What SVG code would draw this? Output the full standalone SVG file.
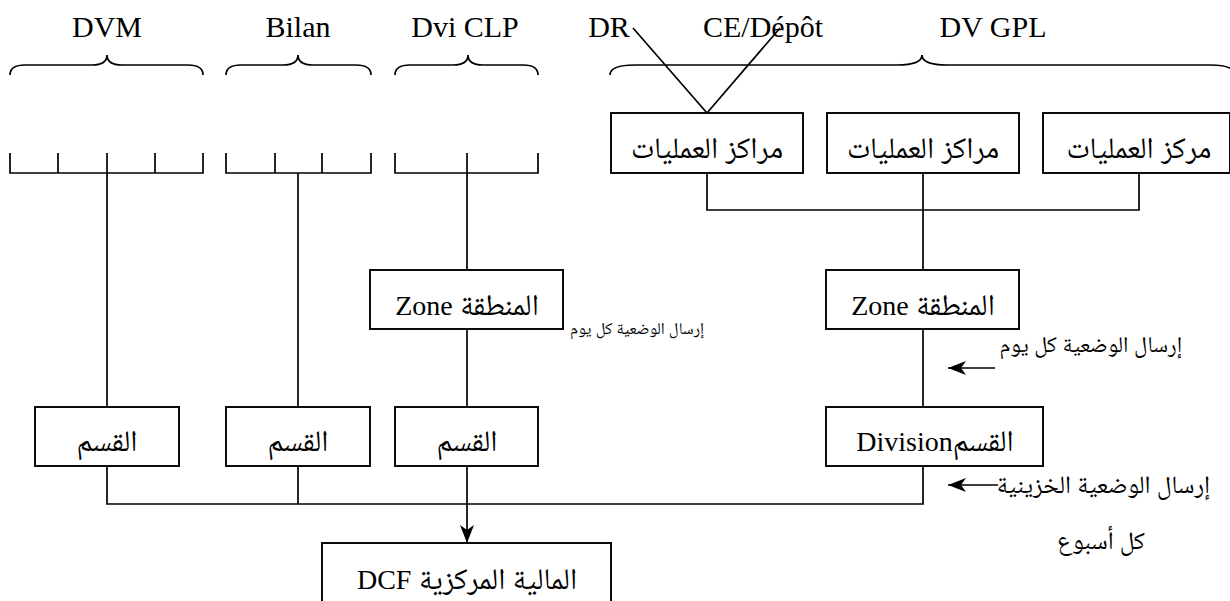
<svg xmlns="http://www.w3.org/2000/svg" width="1230" height="601" viewBox="0 0 1230 601">
<style>
  .ln { fill: none; stroke: #000; stroke-width: 1.7; }
  .box { fill: #fff; stroke: #000; stroke-width: 1.9; }
  .lat { font-family: "Liberation Serif", "DejaVu Sans", serif; font-size: 30px; fill: #000; text-anchor: middle; }
  .ar { font-family: "Liberation Serif", "Noto Naskh Arabic", "Noto Sans Arabic", "DejaVu Sans", sans-serif; font-size: 30px; fill: #000; text-anchor: middle; }
  .lat2 { font-size: 28px; }
  .lbl { font-family: "Liberation Serif", "Noto Naskh Arabic", "Noto Sans Arabic", "DejaVu Sans", sans-serif; fill: #000; text-anchor: end; }
</style>
<defs>
  <marker id="ah" viewBox="0 0 18 14" refX="18" refY="7" markerWidth="18" markerHeight="14" markerUnits="userSpaceOnUse" orient="auto">
    <path d="M0,0 L18,7 L0,14 L5,7 z" fill="#000"/>
  </marker>
</defs>

<g id="headers">
  <text class="lat" x="107" y="37">DVM</text>
  <text class="lat" x="298" y="37">Bilan</text>
  <text class="lat" x="465" y="37">Dvi CLP</text>
  <text class="lat" x="609" y="37">DR</text>
  <text class="lat" x="763" y="37">CE/Dépôt</text>
  <text class="lat" x="993" y="37">DV GPL</text>
</g>

<g id="braces">
  <path class="ln" d="M10,75 Q10,65 25,65 L92,65 Q107,65 107,55 Q107,65 122,65 L188,65 Q203,65 203,75"/>
  <path class="ln" d="M226,75 Q226,65 241,65 L283,65 Q298,65 298,55 Q298,65 313,65 L356,65 Q371,65 371,75"/>
  <path class="ln" d="M395,75 Q395,65 410,65 L453,65 Q468,65 468,55 Q468,65 483,65 L523,65 Q538,65 538,75"/>
  <path class="ln" d="M610,75 Q610,65 635,65 L897,65 Q922,65 922,55 Q922,65 947,65 L1210,65 Q1235,65 1235,75"/>
</g>

<g id="combs">
  <path class="ln" d="M10,153 L10,173 L203,173 L203,153 M58,153 L58,173 M155,153 L155,173"/>
  <path class="ln" d="M226,153 L226,173 L371,173 L371,153 M275,153 L275,173 M322,153 L322,173"/>
  <path class="ln" d="M395,153 L395,173 L538,173 L538,153"/>
</g>

<g id="connectors">
  <line class="ln" x1="107" y1="153" x2="107" y2="407"/>
  <line class="ln" x1="298" y1="173" x2="298" y2="407"/>
  <line class="ln" x1="467" y1="153" x2="467" y2="270"/>
  <line class="ln" x1="467" y1="329" x2="467" y2="407"/>
  <line class="ln" x1="633" y1="28" x2="707" y2="113"/>
  <line class="ln" x1="780" y1="28" x2="707" y2="113"/>
  <path class="ln" d="M707,173 L707,210 L1139,210 L1139,173 M923,173 L923,270"/>
  <line class="ln" x1="923" y1="329" x2="923" y2="407"/>
  <path class="ln" d="M107,466 L107,504 L923,504 L923,466 M298,466 L298,504"/>
  <line class="ln" x1="467" y1="466" x2="467" y2="543" marker-end="url(#ah)"/>
  <line class="ln" x1="995" y1="368" x2="948" y2="368" marker-end="url(#ah)"/>
  <line class="ln" x1="998" y1="485" x2="948" y2="485" marker-end="url(#ah)"/>
</g>

<g id="ops1">
  <rect class="box" x="611" y="113" width="192" height="60"/>
  <text class="ar" x="707" y="158" direction="rtl">مراكز العمليات</text>
</g>
<g id="ops2">
  <rect class="box" x="827" y="113" width="192" height="60"/>
  <text class="ar" x="923" y="158" direction="rtl">مراكز العمليات</text>
</g>
<g id="ops3">
  <rect class="box" x="1043" y="113" width="187" height="60"/>
  <text class="ar" x="1139" y="158" direction="rtl">مركز العمليات</text>
</g>

<g id="zone-left">
  <rect class="box" x="370" y="270" width="193" height="59"/>
  <text class="ar" x="467" y="315" direction="rtl">المنطقة <tspan class="lat2">Zone</tspan></text>
</g>
<g id="zone-right">
  <rect class="box" x="826" y="270" width="193" height="59"/>
  <text class="ar" x="923" y="315" direction="rtl">المنطقة <tspan class="lat2">Zone</tspan></text>
</g>

<g id="div1">
  <rect class="box" x="35" y="407" width="144" height="59"/>
  <text class="ar" x="107" y="451" direction="rtl">القسم</text>
</g>
<g id="div2">
  <rect class="box" x="226" y="407" width="144" height="59"/>
  <text class="ar" x="298" y="451" direction="rtl">القسم</text>
</g>
<g id="div3">
  <rect class="box" x="395" y="407" width="143" height="59"/>
  <text class="ar" x="467" y="451" direction="rtl">القسم</text>
</g>
<g id="div4">
  <rect class="box" x="826" y="407" width="217" height="59"/>
  <text class="ar" x="935" y="451" direction="rtl">القسم<tspan class="lat2">Division</tspan></text>
</g>

<g id="dcf">
  <rect class="box" x="322" y="543" width="289" height="70"/>
  <text class="ar" x="467" y="589" direction="rtl">المالية المركزية <tspan class="lat2">DCF</tspan></text>
</g>

<g id="labels">
  <text class="lbl" x="704" y="334" font-size="16.5">إرسال الوضعية كل يوم</text>
  <text class="lbl" x="1182" y="352" font-size="22.5">إرسال الوضعية كل يوم</text>
  <text class="lbl" x="1210" y="493" font-size="25">إرسال الوضعية الخزينية</text>
  <text class="lbl" x="1145" y="549" font-size="25">كل أسبوع</text>
</g>
</svg>
